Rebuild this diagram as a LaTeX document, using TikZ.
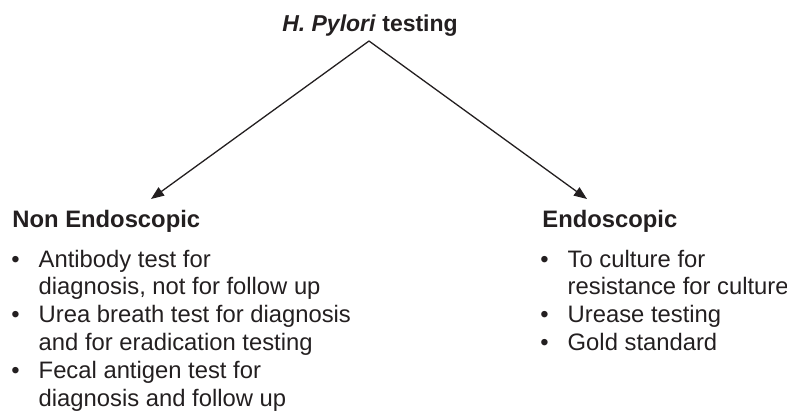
\documentclass[tikz,border=0pt]{standalone}
\usepackage{fontspec}
\setmainfont{Liberation Sans}
\usetikzlibrary{arrows.meta}

\definecolor{ink}{HTML}{231F20}
\tikzset{
  heading/.style={font=\fontsize{11.9}{13.9}\selectfont\bfseries, text=ink, inner sep=0pt, anchor=base west},
  items/.style={font=\fontsize{11.9}{13.9}\selectfont, text=ink, inner sep=0pt, anchor=base west},
  branch/.style={draw=ink, line width=0.65pt, -{Triangle[length=6.5pt,width=5pt]}},
}
% bullet list set as two columns: bullet, then text
\newcommand{\bulletlist}[1]{\begin{tabular}[t]{@{}l@{\hspace{9.5pt}}l@{}}#1\end{tabular}}

\begin{document}
\begin{tikzpicture}[x=0.5pt,y=0.5pt]
      \useasboundingbox (0,0) rectangle (787,413);
      \node[font=\fontsize{11.5}{13.5}\selectfont\bfseries, text=ink, inner sep=0pt, anchor=base]
        (title) at (370,381) {\textit{H. Pylori} testing};
      \coordinate (apex) at (369,372);
      \coordinate (nontip) at (151,214);
      \coordinate (endtip) at (587,214);
      \draw[branch] (apex) -- (nontip);
      \draw[branch] (apex) -- (endtip);

      \node[heading] (nonendo) at (12,185) {Non Endoscopic};
      \node[heading] (endo) at (542,185) {Endoscopic};

      \node[items] (nonlist) at (11,146) {\bulletlist{
        \textbullet & Antibody test for\\
                    & diagnosis, not for follow up\\
        \textbullet & Urea breath test for diagnosis\\
                    & and for eradication testing\\
        \textbullet & Fecal antigen test for\\
                    & diagnosis and follow up}};
      \node[items] (endolist) at (540,146) {\bulletlist{
        \textbullet & To culture for\\
                    & resistance for culture\\
        \textbullet & Urease testing\\
        \textbullet & Gold standard}};
    \end{tikzpicture}
\end{document}
